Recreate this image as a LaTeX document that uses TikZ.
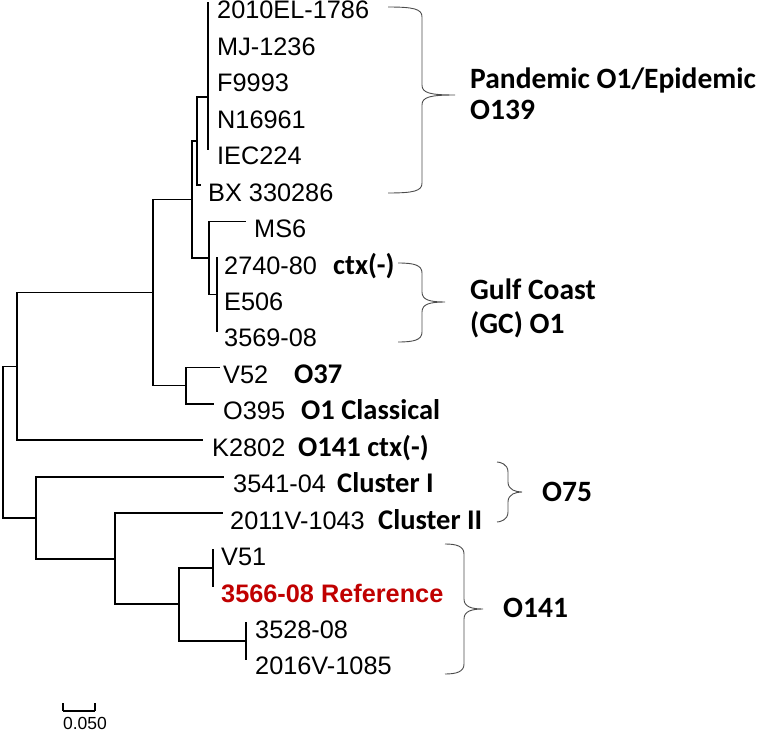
\documentclass[tikz,border=0pt]{standalone}
\usepackage{fontspec}
\setmainfont{Liberation Sans}
\newfontfamily\carlito{Carlito}
\definecolor{refred}{HTML}{C00000}
\newcommand\rbr[6]{% x0 xv xt ytop ybot ytip
  \draw[bracel] (#1,#4) .. controls ({#2-8},#4) and (#2,{#4+2}) .. (#2,{#4+10})
   -- (#2,{#6-10}) .. controls (#2,{#6-2}) and ({#2+8},#6) .. (#3,#6)
   .. controls ({#2+8},#6) and (#2,{#6+2}) .. (#2,{#6+10})
   -- (#2,{#5-10}) .. controls (#2,{#5-2}) and ({#2-8},#5) .. (#1,#5);}
\begin{document}
\begin{tikzpicture}[x=1pt,y=-1pt,
  br/.style={line width=1.7pt,line cap=rect},
  bracel/.style={line width=0.9pt,black!70},
  leaf/.style={anchor=base west,inner sep=0pt,font=\fontsize{25.3}{30}\selectfont},
  ann/.style={anchor=base west,inner sep=0pt,font=\carlito\bfseries\fontsize{28.5}{32}\selectfont},
  grp/.style={anchor=base west,inner sep=0pt,font=\carlito\bfseries\fontsize{29.5}{34}\selectfont}]
\useasboundingbox (0,0) rectangle (766,733);
% branch y positions
\foreach \i in {0,...,18}{\pgfmathsetmacro\yy{3+36.44*\i}\expandafter\xdef\csname by\i\endcsname{\yy}}
% internal nodes
\coordinate (A) at (208,97);
\coordinate (B) at (197,141);
\coordinate (C) at (192,199.5);
\coordinate (D) at (209,\csname by7\endcsname);
\coordinate (E) at (217,\csname by8\endcsname);
\coordinate (F) at (186,385.6);
\coordinate (G) at (153,292.5);
\coordinate (H) at (17,366.4);
\coordinate (L) at (213,567.8);
\coordinate (M) at (246,640.7);
\coordinate (K) at (179,604.3);
\coordinate (J) at (115,558.7);
\coordinate (I) at (36,517.7);
\coordinate (R) at (3,442);
% leaf ends
\coordinate (p0) at (208,\csname by0\endcsname);
\coordinate (p4) at (208,\csname by4\endcsname);
\coordinate (bx) at (200,\csname by5\endcsname);
\coordinate (ms) at (245,\csname by6\endcsname);
\coordinate (g1) at (217,\csname by7\endcsname);
\coordinate (g3) at (217,\csname by9\endcsname);
\coordinate (v52) at (219,\csname by10\endcsname);
\coordinate (o395) at (213,\csname by11\endcsname);
\coordinate (k28) at (202,\csname by12\endcsname);
\coordinate (c1) at (223,\csname by13\endcsname);
\coordinate (c2) at (222,\csname by14\endcsname);
\coordinate (v51) at (213,\csname by15\endcsname);
\coordinate (r66) at (213,\csname by16\endcsname);
\coordinate (s28) at (246,\csname by17\endcsname);
\coordinate (s16) at (246,\csname by18\endcsname);
% tree
\draw[br] (p0) -- (p4);
\draw[br] (B) |- (A); \draw[br] (B) |- (bx);
\draw[br] (C) |- (B); \draw[br] (C) |- (D);
\draw[br] (D) |- (ms); \draw[br] (D) |- (E);
\draw[br] (g1) -- (g3);
\draw[br] (F) |- (v52); \draw[br] (F) |- (o395);
\draw[br] (G) |- (C); \draw[br] (G) |- (F);
\draw[br] (H) |- (G); \draw[br] (H) |- (k28);
\draw[br] (R) |- (H); \draw[br] (R) |- (I);
\draw[br] (I) |- (c1); \draw[br] (I) |- (J);
\draw[br] (J) |- (c2); \draw[br] (J) |- (K);
\draw[br] (K) |- (L); \draw[br] (K) |- (M);
\draw[br] (v51) -- (r66);
\draw[br] (s28) -- (s16);
% leaf labels
\newcommand\lb[4]{\pgfmathsetmacro\yb{\csname by#2\endcsname+16}\node[leaf] (#4) at (#1,\yb) {#3};}
\lb{217}{0}{2010EL-1786}{t0}
\lb{217}{1}{MJ-1236}{t1}
\lb{217}{2}{F9993}{t2}
\lb{217}{3}{N16961}{t3}
\lb{217}{4}{IEC224}{t4}
\lb{208}{5}{BX 330286}{t5}
\lb{254}{6}{MS6}{t6}
\lb{224}{7}{2740-80}{t7}
\lb{224}{8}{E506}{t8}
\lb{224}{9}{3569-08}{t9}
\lb{223}{10}{V52}{t10}
\lb{223}{11}{O395}{t11}
\lb{212}{12}{K2802}{t12}
\lb{233}{13}{3541-04}{t13}
\lb{230}{14}{2011V-1043}{t14}
\lb{221}{15}{V51}{t15}
\lb{221}{16}{\textcolor{refred}{\bfseries 3566-08 Reference}}{t16}
\lb{255}{17}{3528-08}{t17}
\lb{255}{18}{2016V-1085}{t18}
% annotations
\newcommand\an[4]{\pgfmathsetmacro\yb{\csname by#2\endcsname+16}\node[ann] (#4) at (#1,\yb) {#3};}
\an{333}{7}{ctx(-)}{a7}
\an{294}{10}{O37}{a10}
\an{301}{11}{O1 Classical}{a11}
\an{298}{12}{O141 ctx(-)}{a12}
\an{337}{13}{Cluster I}{a13}
\an{378}{14}{Cluster II}{a14}
% braces
\rbr{388}{422}{455}{7}{193}{95}
\rbr{398}{422}{445}{263}{342}{302}
\rbr{497}{508}{522}{462}{522}{492}
\rbr{445}{464}{483}{544}{674}{609}
% group labels
\node[grp] (gp1) at (470,89) {Pandemic O1/Epidemic};
\node[grp] (gp2) at (470,120) {O139};
\node[grp] (gc1) at (470,299) {Gulf Coast};
\node[grp] (gc2) at (470,333) {(GC) O1};
\node[grp] (g75) at (542,501) {O75};
\node[grp] (g141) at (503,617) {O141};
% scale bar
\coordinate (sb1) at (63,711);
\coordinate (sb2) at (95,711);
\draw[line width=1.4pt] (sb1) -- (sb2);
\draw[line width=1.4pt] (63,703) -- (sb1);
\draw[line width=1.4pt] (95,703) -- (sb2);
\node[anchor=base,inner sep=0pt,font=\fontsize{17.5}{20}\selectfont] (sbl) at (85,729) {0.050};
\end{tikzpicture}
\end{document}
